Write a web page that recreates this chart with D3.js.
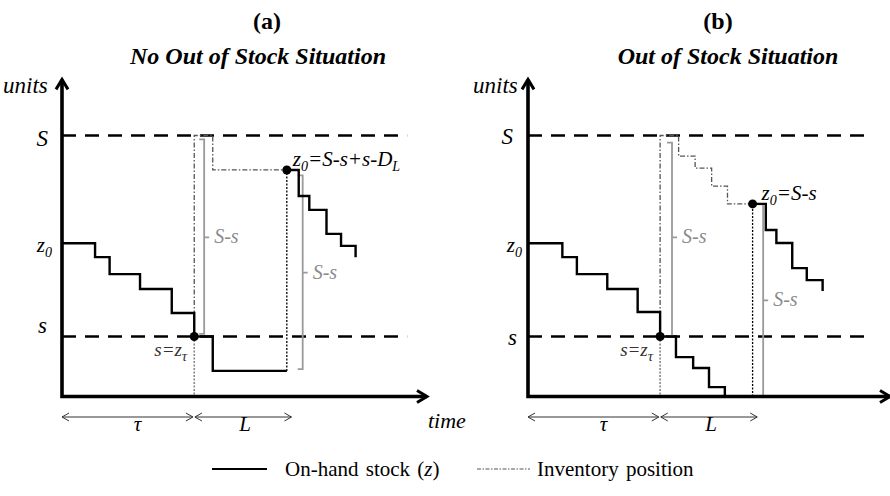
<!DOCTYPE html>
<html><head><meta charset="utf-8">
<script src="https://cdn.jsdelivr.net/npm/d3@7"></script>
<style>
body{margin:0;background:#fff;}
svg{display:block;}
</style></head><body>
<svg id="c" width="890" height="496"></svg>
<script>
// ---------- data ----------
const panelTitles = ["(a)", "(b)"];
const panelSubtitles = ["No Out of Stock Situation", "Out of Stock Situation"];
const levelNames = ["S", "z0", "s"];
const levelValues = [100, 58.7, 23];
const spanLabels = ["τ", "L"];
const spanBounds = [[0, 9.9], [10.05, 17.35]];
const legendLabels = ["On-hand stock (z)", "Inventory position"];

// panel (a): no out of stock
const stockA1 = [[0,58.7],[2.5,53.4],[3.6,46.9],[5.9,41.2],[8.3,32],[10,23],[11.4,9.8],[17,9.8]];
const stockA2 = [[17,86.8],[17.9,76.8],[18.7,71.5],[20,62.3],[21.1,57.7],[22.2,53.4]];
const ipA = [[10,23],[10,100],[11.4,86.8],[17,86.8]];
const jumpA = [17, 9.8, 86.8];
const bracketsA = [[10.75, 24, 98.5, 61], [18.2, 10.5, 84.7, 47.5]];
const dotsA = [[10,23],[17,86.8]];
const noteA = [["z",0],["0",1],["=S-s+s-D",0],["L",1]];

// panel (b): out of stock
const stockB1 = [[0,58.7],[2.6,53.4],[3.7,46.9],[6,41.2],[8.3,32.4],[10,23],[11.2,15.1],[12.5,10.9],[13.7,3.6],[14.9,0],[17,0]];
const stockB2 = [[17,73.8],[18,63.8],[18.8,58.8],[20,49.2],[21.1,44.6],[22.3,40.4]];
const ipB = [[10,23],[10,100],[11.4,92.1],[12.65,87.5],[13.9,80.6],[15.1,73.8],[17,73.8]];
const jumpB = [17, 0, 73.8];
const bracketsB = [[10.9, 23, 97.3, 61], [17.8, 0, 73.6, 36.8]];
const dotsB = [[10,23],[17,73.8]];
const noteB = [["z",0],["0",1],["=S-s",0]];

// ---------- drawing ----------
const FONT = "Liberation Serif";
const svg = d3.select("#c");
const y = d3.scaleLinear().domain([0, 100]).range([396.5, 135.5]);

function T(parent) { return parent.append("text").attr("font-family", FONT); }

function rich(textSel, parts, size, subSize) {
  let shifted = false;
  parts.forEach(([str, sub]) => {
    const t = textSel.append("tspan").attr("font-family", FONT).text(str);
    if (sub && !shifted) { t.attr("dy", 5).attr("font-size", subSize); shifted = true; }
    else if (!sub && shifted) { t.attr("dy", -5).attr("font-size", size); shifted = false; }
    else t.attr("font-size", sub ? subSize : size);
  });
}

const panels = [
  { x: d3.scaleLinear().domain([0, 27.6]).range([62, 427]), xEnd: 27.6,
    title: [267, 29], sub: [258, 64], units: [3, 93],
    stock1: stockA1, stock2: stockA2, ip: ipA, jump: jumpA, brackets: bracketsA, dots: dotsA, note: noteA,
    noteOff: [6, -4], sLabel: [[-14, 3, 23], [-10, 1, 21], [-15, -11, 23]] , time: true },
  { x: d3.scaleLinear().domain([0, 27.4]).range([528, 890]), xEnd: 27.4,
    title: [718, 29], sub: [728, 64], units: [473, 93],
    stock1: stockB1, stock2: stockB2, ip: ipB, jump: jumpB, brackets: bracketsB, dots: dotsB, note: noteB,
    noteOff: [9, -4], sLabel: [[-15, 1, 23], [-6, 1, 21], [-11, 1, 23]], time: false }
];

panels.forEach((p, pi) => {
  const x = p.x;
  const g = svg.append("g");

  // titles
  T(g).attr("x", p.title[0]).attr("y", p.title[1]).attr("text-anchor", "middle")
    .attr("font-weight", "bold").attr("font-size", 24).text(panelTitles[pi]);
  T(g).attr("x", p.sub[0]).attr("y", p.sub[1]).attr("text-anchor", "middle")
    .attr("font-weight", "bold").attr("font-style", "italic").attr("font-size", 24).text(panelSubtitles[pi]);
  T(g).attr("x", p.units[0]).attr("y", p.units[1]).attr("font-style", "italic")
    .attr("font-size", 23).text("units");

  // dashed levels S and s
  [levelValues[0], levelValues[2]].forEach(v => {
    g.append("line").attr("x1", x(0)).attr("x2", x(26.1)).attr("y1", y(v)).attr("y2", y(v))
      .attr("stroke", "#000").attr("stroke-width", 2.4).attr("stroke-dasharray", "14,9");
  });

  // y-axis labels via d3 axis
  const ax = g.append("g").attr("transform", `translate(${x(0)},0)`)
    .call(d3.axisLeft(y).tickValues(levelValues).tickSize(0).tickFormat(""));
  ax.attr("font-family", FONT).attr("font-size", null);
  ax.select(".domain").remove();
  ax.selectAll(".tick text").each(function(d, i) {
    const [dx, dy, fs] = p.sLabel[i];
    const t = d3.select(this).attr("font-family", FONT).attr("x", dx).attr("dy", 0).attr("y", fs * 0.32 + dy)
      .attr("font-style", "italic").attr("fill", "#000").attr("text-anchor", "end");
    if (levelNames[i] === "z0") rich(t, [["z",0],["0",1]], fs, 14);
    else t.attr("font-size", fs).text(levelNames[i]);
  });

  // gray dotted below s at reorder time
  g.append("line").attr("x1", x(10)).attr("x2", x(10)).attr("y1", y(23)).attr("y2", y(0))
    .attr("stroke", "#888").attr("stroke-width", 1.6).attr("stroke-dasharray", "2,1.5");

  // brackets
  p.brackets.forEach(([t, a, b, m]) => {
    const bx = x(t);
    g.append("path").attr("d", `M${bx-5},${y(b)}H${bx}V${y(a)}H${bx-5}M${bx},${y(m)}H${bx+5}`)
      .attr("fill", "none").attr("stroke", "#9a9a9a").attr("stroke-width", 1.8);
    T(g).attr("x", bx + 10).attr("y", y(m) + 6).attr("font-style", "italic")
      .attr("font-size", 20).attr("fill", "#8a8a8a").text("S-s");
  });

  // inventory position
  g.append("path").attr("d", d3.line().x(d => x(d[0])).y(d => y(d[1])).curve(d3.curveStepAfter)(p.ip))
    .attr("fill", "none").attr("stroke", "#555").attr("stroke-width", 1.3).attr("stroke-dasharray", "5,2,1.5,2");

  // jump at order arrival (dotted)
  g.append("line").attr("x1", x(p.jump[0])).attr("x2", x(p.jump[0])).attr("y1", y(p.jump[1])).attr("y2", y(p.jump[2]))
    .attr("stroke", "#000").attr("stroke-width", 1.3).attr("stroke-dasharray", "2,1.5");

  // on-hand stock
  const stepLine = d3.line().x(d => x(d[0])).y(d => y(d[1])).curve(d3.curveStepAfter);
  [p.stock1, p.stock2].forEach(s => {
    g.append("path").attr("d", stepLine(s)).attr("fill", "none").attr("stroke", "#000")
      .attr("stroke-width", 2.4).attr("stroke-linejoin", "miter");
  });

  // axes
  const x0 = x(0), y0 = y(0), yTip = y(121.5), xTip = x(p.xEnd);
  g.append("path").attr("d", `M${x0},${yTip+2}V${y0}H${xTip-2}`)
    .attr("fill", "none").attr("stroke", "#000").attr("stroke-width", 3.6).attr("stroke-linecap", "square");
  g.append("path").attr("d", `M${x0-6},${yTip+10}L${x0},${yTip}L${x0+6},${yTip+10}`)
    .attr("fill", "none").attr("stroke", "#000").attr("stroke-width", 3);
  g.append("path").attr("d", `M${xTip-10},${y0-6}L${xTip},${y0}L${xTip-10},${y0+6}`)
    .attr("fill", "none").attr("stroke", "#000").attr("stroke-width", 3);

  // dots
  g.selectAll(".dot").data(p.dots).enter().append("circle")
    .attr("cx", d => x(d[0])).attr("cy", d => y(d[1])).attr("r", 4.5).attr("fill", "#000");

  // notes
  const [nd] = p.dots.slice(1);
  const nt = T(g).attr("x", x(nd[0]) + p.noteOff[0]).attr("y", y(nd[1]) + p.noteOff[1])
    .attr("font-style", "italic").attr("fill", "#000");
  rich(nt, p.note, 21, 14);
  const st = T(g).attr("x", x(10) - 7).attr("y", y(23) + 20).attr("text-anchor", "end")
    .attr("font-style", "italic").attr("fill", "#333");
  rich(st, [["s=z",0],["τ",1]], 19, 15);

  // time spans
  const ay = 417;
  spanBounds.forEach(([a, b], i) => {
    const xa = x(a), xb = x(b);
    g.append("path").attr("d", `M${xa},${ay}H${xb}M${xa+7},${ay-4}L${xa},${ay}L${xa+7},${ay+4}M${xb-7},${ay-4}L${xb},${ay}L${xb-7},${ay+4}`)
      .attr("fill", "none").attr("stroke", "#333").attr("stroke-width", 1);
    T(g).attr("x", (xa + xb) / 2 + (i === 0 ? 10 : 2)).attr("y", 431).attr("text-anchor", "middle")
      .attr("font-style", "italic").attr("font-size", 21).text(spanLabels[i]);
  });
  if (p.time) T(g).attr("x", 428).attr("y", 428).attr("font-style", "italic")
    .attr("font-size", 22).text("time");
});

// legend
const lg = svg.append("g");
lg.append("line").attr("x1", 212).attr("x2", 267).attr("y1", 469).attr("y2", 469)
  .attr("stroke", "#000").attr("stroke-width", 2.2);
const lt = T(lg).attr("x", 285).attr("y", 476).attr("font-size", 21).attr("word-spacing", 2);
lt.append("tspan").attr("font-family", FONT).text("On-hand stock (");
lt.append("tspan").attr("font-family", FONT).attr("font-style", "italic").text("z");
lt.append("tspan").attr("font-family", FONT).text(")");
lg.append("line").attr("x1", 477).attr("x2", 530).attr("y1", 469).attr("y2", 469)
  .attr("stroke", "#555").attr("stroke-width", 1.1).attr("stroke-dasharray", "4,1.5,1.5,1.5");
T(lg).attr("x", 537).attr("y", 476).attr("font-size", 21).attr("word-spacing", 2)
  .text(legendLabels[1]);
</script>
</body></html>
